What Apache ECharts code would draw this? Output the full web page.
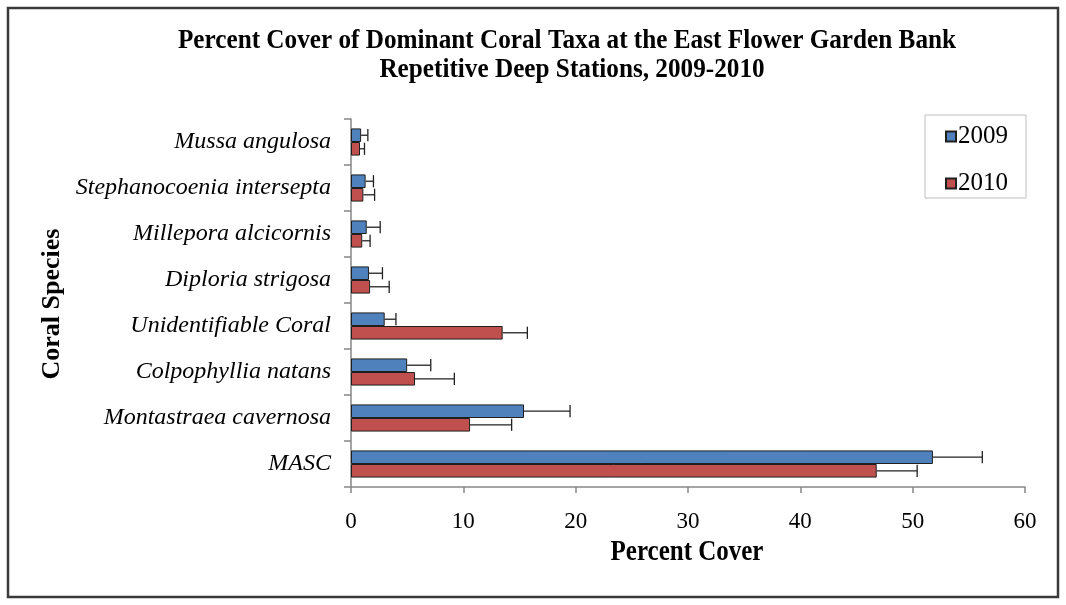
<!DOCTYPE html>
<html>
<head>
<meta charset="utf-8">
<title>Percent Cover of Dominant Coral Taxa</title>
<script src="https://cdn.jsdelivr.net/npm/echarts@6/dist/echarts.min.js"></script>
<style>
  html, body { margin: 0; padding: 0; background: #ffffff; }
  #chart { width: 1066px; height: 605px; }
</style>
</head>
<body>
<div id="chart"></div>
<script>
// Coral taxa, listed bottom-to-top along the category axis
const species = [
  'MASC',
  'Montastraea cavernosa',
  'Colpophyllia natans',
  'Unidentifiable Coral',
  'Diploria strigosa',
  'Millepora alcicornis',
  'Stephanocoenia intersepta',
  'Mussa angulosa'
];

// Mean percent cover per year
const cover2009 = [51.8, 15.4, 5.0, 3.0, 1.6, 1.4, 1.3, 0.9];
const cover2010 = [46.8, 10.6, 5.7, 13.5, 1.7, 1.0, 1.1, 0.8];

// Standard error (drawn as one-sided error bars)
const se2009 = [4.4, 4.1, 2.1, 1.0, 1.2, 1.2, 0.7, 0.6];
const se2010 = [3.6, 3.7, 3.5, 2.2, 1.7, 0.7, 1.0, 0.4];

const xTicks = [0, 10, 20, 30, 40, 50, 60];

const FONT = "'Liberation Serif', 'Times New Roman', serif";
const CATEGORY_GAP = 0.41;

function errorSeries(name, means, errs, slot) {
  return {
    name: name,
    type: 'custom',
    z: 5,
    silent: true,
    encode: { x: 1, y: 0 },
    data: means.map((m, i) => [i, m, errs[i]]),
    renderItem: function (params, api) {
      const idx = api.value(0);
      const mean = api.value(1);
      const err = api.value(2);
      const band = api.size([0, 1])[1];
      const barW = band * (1 - CATEGORY_GAP) / 2;
      const start = api.coord([mean, idx]);
      const end = api.coord([mean + err, idx]);
      const y = start[1] + (slot === 0 ? -barW / 2 : barW / 2);
      const cap = barW * 0.45;
      const st = { stroke: '#222', lineWidth: 1.3 };
      return {
        type: 'group',
        children: [
          { type: 'line', shape: { x1: start[0], y1: y, x2: end[0], y2: y }, style: st },
          { type: 'line', shape: { x1: end[0], y1: y - cap, x2: end[0], y2: y + cap }, style: st }
        ]
      };
    }
  };
}

const chart = echarts.init(document.getElementById('chart'));

chart.setOption({
  animation: false,
  backgroundColor: '#ffffff',
  textStyle: { fontFamily: FONT, color: '#000' },
  graphic: [
    {
      type: 'rect',
      shape: { x: 8, y: 8, width: 1050, height: 589 },
      style: { fill: 'none', stroke: '#3a3a3a', lineWidth: 2.5 },
      silent: true
    },
    {
      type: 'text',
      x: 567, y: 41, scaleX: 0.934,
      style: {
        text: 'Percent Cover of Dominant Coral Taxa at the East Flower Garden Bank',
        font: 'bold 27px ' + FONT, fill: '#000',
        textAlign: 'center', textVerticalAlign: 'middle'
      }
    },
    {
      type: 'text',
      x: 572, y: 70, scaleX: 0.934,
      style: {
        text: 'Repetitive Deep Stations, 2009-2010',
        font: 'bold 27px ' + FONT, fill: '#000',
        textAlign: 'center', textVerticalAlign: 'middle'
      }
    },
    {
      type: 'text',
      x: 687, y: 553, scaleY: 1.15,
      style: {
        text: 'Percent Cover',
        font: 'bold 25px ' + FONT, fill: '#000',
        textAlign: 'center', textVerticalAlign: 'middle'
      }
    },
    {
      type: 'text',
      x: 52, y: 304, rotation: Math.PI / 2,
      style: {
        text: 'Coral Species',
        font: 'bold 26px ' + FONT, fill: '#000',
        textAlign: 'center', textVerticalAlign: 'middle'
      }
    }
  ],
  legend: {
    data: ['2009', '2010'],
    orient: 'vertical',
    left: 925,
    top: 115,
    padding: [9, 18, 2, 20],
    itemGap: 22,
    itemWidth: 10,
    itemHeight: 10,
    icon: 'rect',
    borderColor: '#bfbfbf',
    borderWidth: 1,
    textStyle: { fontFamily: FONT, fontSize: 25, lineHeight: 25, color: '#000', padding: [0, 0, 0, -3] }
  },
  grid: { left: 351, right: 41, top: 119, bottom: 118, containLabel: false },
  xAxis: {
    type: 'value',
    min: xTicks[0],
    max: xTicks[xTicks.length - 1],
    interval: 10,
    axisLine: { show: true, lineStyle: { color: '#868686', width: 1.5 } },
    axisTick: { show: true, length: 6, lineStyle: { color: '#868686', width: 1.5 } },
    splitLine: { show: false },
    axisLabel: { fontFamily: FONT, fontSize: 23, color: '#000', margin: 23 }
  },
  yAxis: {
    type: 'category',
    data: species,
    axisLine: { show: true, lineStyle: { color: '#868686', width: 1.5 } },
    axisTick: { show: true, length: 7, alignWithLabel: false, lineStyle: { color: '#868686', width: 1.5 } },
    axisLabel: { fontFamily: FONT, fontSize: 24, fontStyle: 'italic', color: '#000', margin: 20 }
  },
  series: [
    {
      name: '2009',
      type: 'bar',
      data: cover2009,
      barGap: '0%',
      barCategoryGap: (CATEGORY_GAP * 100) + '%',
      itemStyle: { color: '#4F81BD', borderColor: '#1f1f1f', borderWidth: 1 }
    },
    {
      name: '2010',
      type: 'bar',
      data: cover2010,
      barGap: '0%',
      barCategoryGap: (CATEGORY_GAP * 100) + '%',
      itemStyle: { color: '#C0504D', borderColor: '#1f1f1f', borderWidth: 1 }
    },
    errorSeries('2009 SE', cover2009, se2009, 0),
    errorSeries('2010 SE', cover2010, se2010, 1)
  ]
});
</script>
</body>
</html>
